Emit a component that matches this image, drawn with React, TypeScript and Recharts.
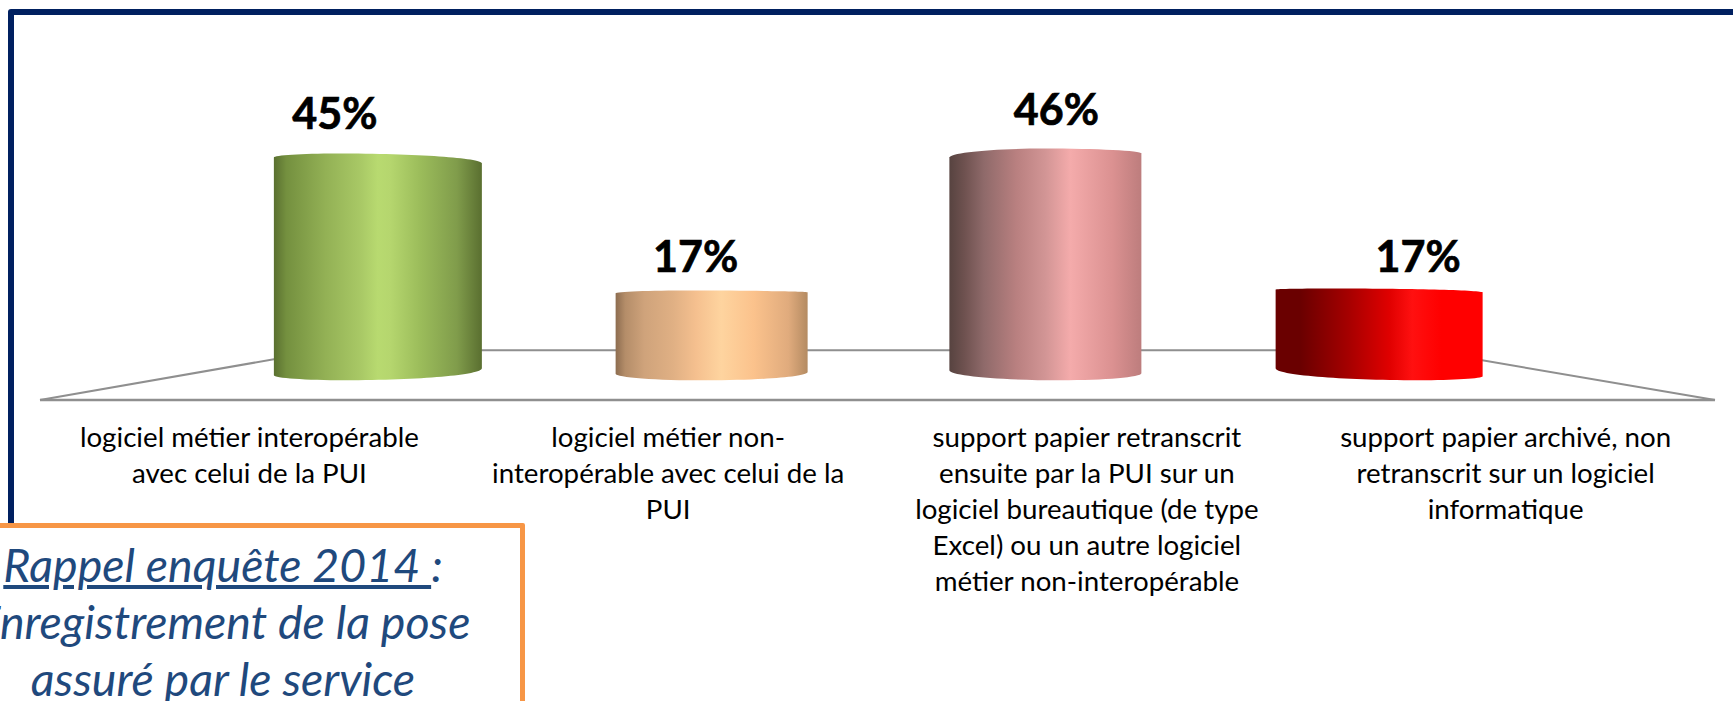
import { Bar, BarChart, LabelList, ReferenceLine, XAxis, YAxis } from "recharts";

const categoryLines = [
  ["logiciel métier interopérable", "avec celui de la PUI"],
  ["logiciel métier non-", "interopérable avec celui de la", "PUI"],
  [
    "support papier retranscrit",
    "ensuite par la PUI sur un",
    "logiciel bureautique (de type",
    "Excel) ou un autre logiciel",
    "métier non-interopérable",
  ],
  ["support papier archivé, non", "retranscrit sur un logiciel", "informatique"],
];
const categories = categoryLines.map((lines) => lines.join(" "));
const values = [45, 17, 46, 17];
const valueLabels = ["45%", "17%", "46%", "17%"];

const calloutLines = ["Enregistrement de la pose", "assuré par le service"];

// perspective of each cylinder, px
const barWidths = [208, 192, 192, 207];
const labelShift = [
  { dx: -43, dy: 25 },
  { dx: -16, dy: 20 },
  { dx: 11, dy: 24 },
  { dx: 39, dy: 20 },
];
const edges = [
  { lift: 0, topL: 4, topR: 10, topPeak: 0.3, botL: 5, botR: 12, botPeak: 0.34 },
  { lift: 1, topL: 2.7, topR: 1.7, topPeak: 0.39, botL: 6.7, botR: 8.3, botPeak: 0.47 },
  { lift: 0, topL: 9, topR: 5, topPeak: 0.49, botL: 10, botR: 7, botPeak: 0.58 },
  { lift: 3, topL: 1, topR: 4, topPeak: 0.29, botL: 12, botR: 4, botPeak: 0.69 },
];
const gradients = [
  [[0, "#5a7030"], [0.06, "#74903f"], [0.25, "#93b155"], [0.42, "#a9c966"], [0.5, "#b8da70"], [0.56, "#b5d66e"], [0.7, "#9cbd5b"], [0.88, "#809c4b"], [1, "#5a6f30"]],
  [[0, "#8d6d50"], [0.05, "#b48d69"], [0.15, "#cfa37b"], [0.3, "#e0b084"], [0.42, "#f5c08f"], [0.55, "#fed49f"], [0.72, "#fbc28c"], [0.9, "#e0ab7d"], [1, "#b48b62"]],
  [[0, "#574340"], [0.08, "#6f5250"], [0.18, "#8f6a6a"], [0.35, "#b98080"], [0.5, "#d29595"], [0.63, "#f4abab"], [0.85, "#db9191"], [1, "#bd7d7d"]],
  [[0, "#6a0000"], [0.12, "#6a0000"], [0.35, "#a50000"], [0.55, "#e00000"], [0.66, "#ff1010"], [0.8, "#ff0000"], [1, "#ff0000"]],
];

const chartData = categories.map((name, i) => ({ name, value: values[i] }));

const FLOOR_BACK = 5.07;
const FLOOR_COLOR = "#8f8f8f";

function edgeArc(x0: number, y0: number, px: number, py: number, x1: number, y1: number) {
  const k = 0.55;
  return (
    `C ${x0} ${y0 + (py - y0) * k} ${px - (px - x0) * k} ${py} ${px} ${py} ` +
    `C ${px + (x1 - px) * k} ${py} ${x1} ${y1 + (py - y1) * k} ${x1} ${y1}`
  );
}

function Cylinder(props: any) {
  const { x, y, width, height, index } = props;
  const e = edges[index];
  const w = barWidths[index];
  const left = x + width / 2 - w / 2;
  const right = left + w;
  const top = y - e.lift;
  const bottom = y + height + 5;
  const d =
    `M ${left} ${top + e.topL} ` +
    edgeArc(left, top + e.topL, left + w * e.topPeak, top, right, top + e.topR) +
    ` L ${right} ${bottom - e.botR} ` +
    edgeArc(right, bottom - e.botR, left + w * e.botPeak, bottom, left, bottom - e.botL) +
    " Z";
  return <path d={d} fill={`url(#cyl${index})`} />;
}

function ValueLabel(props: any) {
  const { x, y, width, index } = props;
  const shift = labelShift[index];
  return (
    <text
      x={x + width / 2 + shift.dx}
      y={y - shift.dy}
      textAnchor="middle"
      fontFamily="Lato"
      fontWeight={700}
      fontSize={43}
      fill="#000"
      stroke="#000"
      strokeWidth={0.7}
    >
      {valueLabels[index]}
    </text>
  );
}

function CategoryTick(props: any) {
  const { x, y, index } = props;
  return (
    <text textAnchor="middle" fontFamily="Lato" fontSize={27.7} fill="#000">
      {categoryLines[index].map((line, i) => (
        <tspan key={i} x={x} y={y + 39 + i * 36}>
          {line}
        </tspan>
      ))}
    </text>
  );
}

function Floor(props: any) {
  const { x1, x2, y1 } = props;
  const front = 400;
  return (
    <path
      d={`M ${x1} ${front} L ${x1 + 285} ${y1} L ${x2 - 291} ${y1} L ${x2} ${front}`}
      fill="none"
      stroke={FLOOR_COLOR}
      strokeWidth={2}
    />
  );
}

export default function App() {
  return (
    <div
      style={{
        position: "absolute",
        left: 0,
        top: 0,
        width: 1733,
        height: 701,
        overflow: "hidden",
        background: "#fff",
      }}
    >
      <div
        style={{
          position: "absolute",
          left: 8,
          top: 9,
          width: 1800,
          height: 800,
          border: "6px solid #002060",
          borderRadius: 3,
        }}
      />
      <div style={{ position: "absolute", left: 0, top: 0 }}>
        <BarChart
          width={1733}
          height={701}
          data={chartData}
          margin={{ top: 79.55, right: 18, bottom: 0, left: 40 }}
        >
          <defs>
            {gradients.map((stops, i) => (
              <linearGradient key={i} id={`cyl${i}`} x1="0" y1="0" x2="1" y2="0">
                {stops.map(([offset, color]) => (
                  <stop key={offset as number} offset={offset as number} stopColor={color as string} />
                ))}
              </linearGradient>
            ))}
          </defs>
          <XAxis
            xAxisId="front"
            dataKey="name"
            height={301}
            interval={0}
            tickLine={false}
            axisLine={{ stroke: FLOOR_COLOR, strokeWidth: 2.5 }}
            tick={<CategoryTick />}
          />
          <XAxis
            xAxisId="bars"
            dataKey="name"
            hide
            orientation="top"
            height={0}
            padding={{ left: 171, right: 169 }}
          />
          <YAxis hide domain={[-5, 60]} />
          <ReferenceLine xAxisId="front" y={FLOOR_BACK} shape={<Floor />} zIndex={-1} />
          <Bar
            xAxisId="bars"
            dataKey="value"
            shape={<Cylinder />}
            isAnimationActive={false}
          >
            <LabelList dataKey="value" content={<ValueLabel />} />
          </Bar>
        </BarChart>
      </div>
      <div
        style={{
          position: "absolute",
          left: -20,
          top: 523,
          width: 535,
          height: 300,
          border: "5px solid #f79646",
          borderRadius: 2,
          background: "#fff",
        }}
      />
      <div
        style={{
          position: "absolute",
          left: -200,
          top: 536,
          width: 846,
          textAlign: "center",
          whiteSpace: "nowrap",
          fontFamily: "Lato",
          fontStyle: "italic",
          fontSize: 46.5,
          lineHeight: "57px",
          color: "#1f497d",
        }}
      >
        <div>
          <span style={{ textDecoration: "underline" }}>Rappel enquête 2014 </span>:
        </div>
        {calloutLines.map((line) => (
          <div key={line}>{line}</div>
        ))}
      </div>
    </div>
  );
}
